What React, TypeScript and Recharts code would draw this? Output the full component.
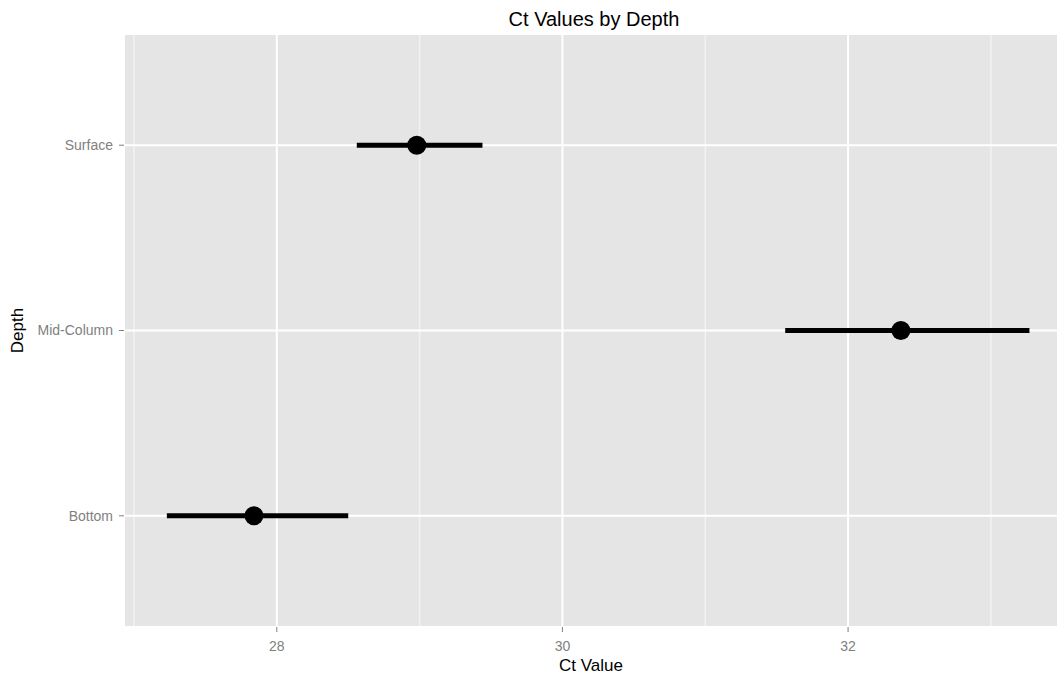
import React from 'react';
import { ScatterChart, Scatter, XAxis, YAxis, CartesianGrid, ErrorBar } from 'recharts';

const categories = ['Bottom', 'Mid-Column', 'Surface'];
const meanCt = [27.84, 32.37, 28.98];
const lowerCt = [27.23, 31.56, 28.56];
const upperCt = [28.5, 33.27, 29.44];
const xTicks = [28, 30, 32];
const xMinor = [27, 29, 31, 33];
const yPositions = [1, 2, 3];

const rows = categories.map((name, i) => ({
  depth: name,
  pos: yPositions[i],
  ct: meanCt[i],
  err: [meanCt[i] - lowerCt[i], upperCt[i] - meanCt[i]],
}));

const FONT = '"Liberation Sans", Arial, sans-serif';

const Dot = (props: any) => {
  const { cx, cy } = props;
  return <circle cx={cx} cy={cy} r={9.5} fill="#000" />;
};

export default function App() {
  return (
    <div style={{ position: 'absolute', left: 0, top: 0, width: 1058, height: 674, background: '#fff', fontFamily: FONT }}>
      <div
        style={{
          position: 'absolute',
          top: 8,
          left: 124,
          width: 940,
          textAlign: 'center',
          fontSize: 20,
          color: '#000',
          fontFamily: FONT,
          whiteSpace: 'nowrap',
        }}
      >
        Ct Values by Depth
      </div>
      <ScatterChart width={1058} height={674} margin={{ top: 34, right: 0, bottom: 0, left: 0 }} style={{ fontFamily: FONT }}>
        <CartesianGrid
          horizontal={false}
          verticalValues={xMinor}
          stroke="#f2f2f2"
          strokeWidth={1.5}
          fill="#e5e5e5"
          fillOpacity={1}
        />
        <CartesianGrid stroke="#ffffff" strokeWidth={2} />
        <XAxis
          type="number"
          dataKey="ct"
          domain={[26.93, 33.47]}
          ticks={xTicks}
          allowDataOverflow
          height={47}
          axisLine={false}
          tickSize={5}
          tickMargin={9}
          tickLine={{ stroke: '#7f7f7f' }}
          tick={{ fill: '#7f7f7f', fontSize: 14 }}
          label={{ value: 'Ct Value', position: 'insideBottom', offset: 3, fill: '#000', fontSize: 17 }}
        />
        <YAxis
          type="number"
          dataKey="pos"
          domain={[0.4, 3.6]}
          ticks={yPositions}
          allowDataOverflow
          width={124}
          axisLine={false}
          tickSize={5}
          tickMargin={6}
          tickLine={{ stroke: '#7f7f7f' }}
          tick={{ fill: '#7f7f7f', fontSize: 14 }}
          tickFormatter={(v: number) => categories[yPositions.indexOf(v)] ?? ''}
          label={{ value: 'Depth', angle: -90, position: 'insideLeft', offset: 17, fill: '#000', fontSize: 17, style: { textAnchor: 'middle' } }}
        />
        <Scatter data={rows} isAnimationActive={false} shape={<Dot />} fill="#000">
          <ErrorBar dataKey="err" direction="x" width={0} stroke="#000" strokeWidth={5} isAnimationActive={false} />
        </Scatter>
      </ScatterChart>
    </div>
  );
}
